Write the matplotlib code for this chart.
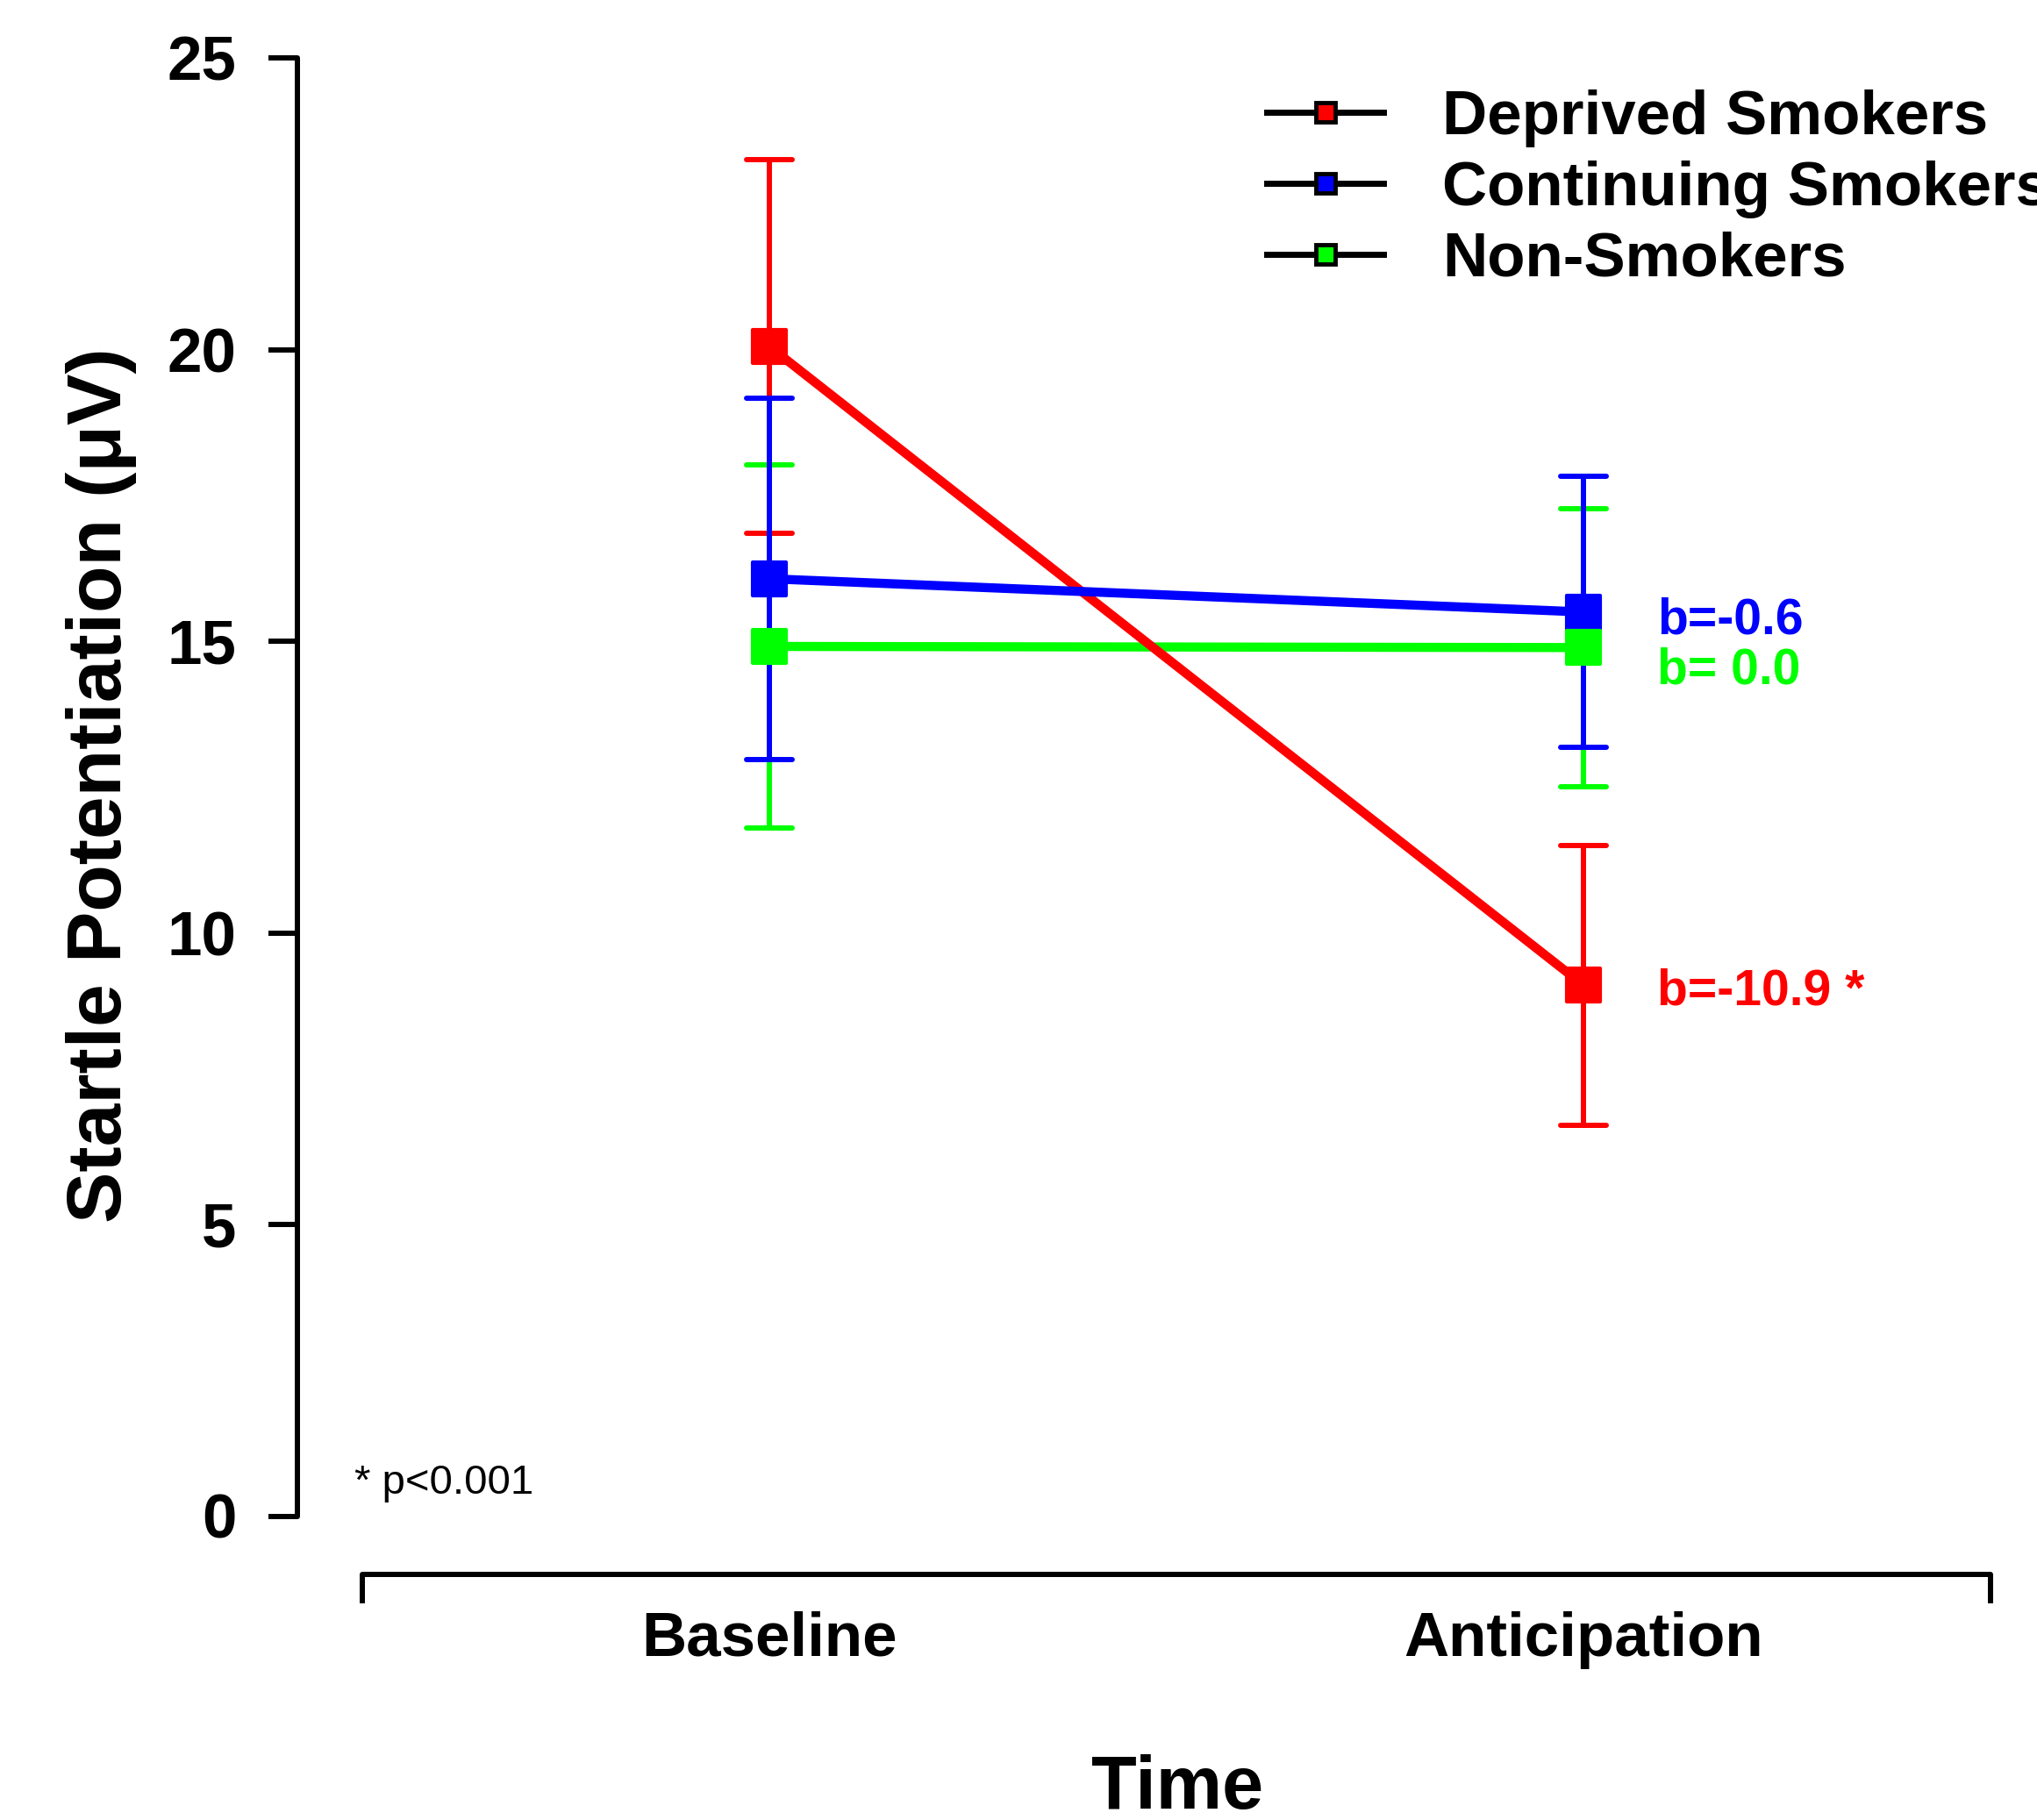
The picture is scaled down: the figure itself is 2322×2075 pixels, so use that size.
import matplotlib
matplotlib.use('Agg')
import matplotlib.pyplot as plt
from matplotlib.markers import MarkerStyle
from matplotlib.lines import Line2D

plt.rcParams['font.family'] = ['Liberation Sans', 'DejaVu Sans']
plt.rcParams['font.weight'] = 'bold'

# Datos
time_points = ['Baseline', 'Anticipation']
x_pos = [1, 2]

groups = ['Deprived Smokers', 'Continuing Smokers', 'Non-Smokers']
colors = ['#FF0000', '#0000FF', '#00FF00']

deprived_mean = [20.05, 9.10]
deprived_err = [3.2, 2.4]
continuing_mean = [16.07, 15.50]
continuing_err = [3.1, 2.32]
nonsmoker_mean = [14.91, 14.89]
nonsmoker_err = [3.12, 2.38]

slope_labels = ['b=-10.9 *', 'b=-0.6', 'b= 0.0']
slope_label_y = [8.77, 15.13, 14.27]

means = [deprived_mean, continuing_mean, nonsmoker_mean]
errs = [deprived_err, continuing_err, nonsmoker_err]

# Figura
W, H = 2322, 2075
fig = plt.figure(figsize=(W / 100, H / 100), dpi=100)
ax = fig.add_axes([339 / W, 1 - 1795 / H, 2.16 * 928 / W, 27 * 66.5 / H])
ax.set_xlim(0.42, 2.58)
ax.set_ylim(-1, 26)

# barras de error (azul encima)
cap_marker = MarkerStyle('_', capstyle='round')
for i in [0, 2, 1]:
    _, caps, bars = ax.errorbar(x_pos, means[i], yerr=errs[i], fmt='none',
                                ecolor=colors[i], elinewidth=4.3, capsize=19,
                                capthick=4.3, zorder=2)
    for c in caps:
        c.set_marker(cap_marker)

# lineas
for i in [2, 0, 1]:
    ax.plot(x_pos, means[i], color=colors[i], lw=7.5, zorder=3,
            solid_capstyle='round')

# marcadores
sq = MarkerStyle('s', joinstyle='round')
for i in [0, 1, 2]:
    ax.plot(x_pos, means[i], linestyle='none', marker=sq, markersize=28,
            markerfacecolor=colors[i], markeredgecolor=colors[i],
            markeredgewidth=3, zorder=4)

# pendientes
for i in range(3):
    ax.text(2.09, slope_label_y[i], slope_labels[i], color=colors[i],
            fontsize=41, fontweight='bold', ha='left', va='baseline')

ax.text(0.49, 0.39, '* p<0.001', fontsize=34, fontweight='normal',
        ha='left', va='baseline')

# ejes
for s in ['top', 'right']:
    ax.spines[s].set_visible(False)
ax.spines['left'].set_bounds(0, 25)
ax.spines['bottom'].set_bounds(0.5, 2.5)
for s in ['left', 'bottom']:
    ax.spines[s].set_linewidth(4.3)
    ax.spines[s].set_capstyle('round')

ax.set_yticks(range(0, 26, 5))
ax.tick_params(axis='y', length=24, width=4.3, pad=26, labelsize=51)
ax.set_xticks([0.5, 2.5])
ax.set_xticklabels(['', ''])
ax.set_xticks(x_pos, minor=True)
ax.set_xticklabels(time_points, minor=True)
ax.tick_params(axis='x', which='major', length=24, width=4.3)
ax.tick_params(axis='x', which='minor', length=0, pad=30, labelsize=51)

fig.text(1342 / W, 1 - 2062 / H, 'Time', ha='center', va='baseline',
         fontsize=61, fontweight='bold')
fig.text(138 / W, 1 - 895 / H, 'Startle Potentiation (μV)', rotation=90,
         rotation_mode='anchor', ha='center', va='baseline',
         fontsize=63, fontweight='bold')

# leyenda
handles = [Line2D([], [], color='black', lw=5, marker='s', markersize=16,
                  markerfacecolor=c, markeredgecolor='black',
                  markeredgewidth=3.5) for c in colors]
ax.legend(handles, groups, loc='upper left',
          bbox_to_anchor=(1444 / W, 1 - 102 / H), bbox_transform=fig.transFigure,
          frameon=False, prop={'size': 51, 'weight': 'bold'},
          handlelength=1.88, handletextpad=0.95, labelspacing=0.21,
          borderpad=0, borderaxespad=0)

fig.savefig('out.png', dpi=100)
